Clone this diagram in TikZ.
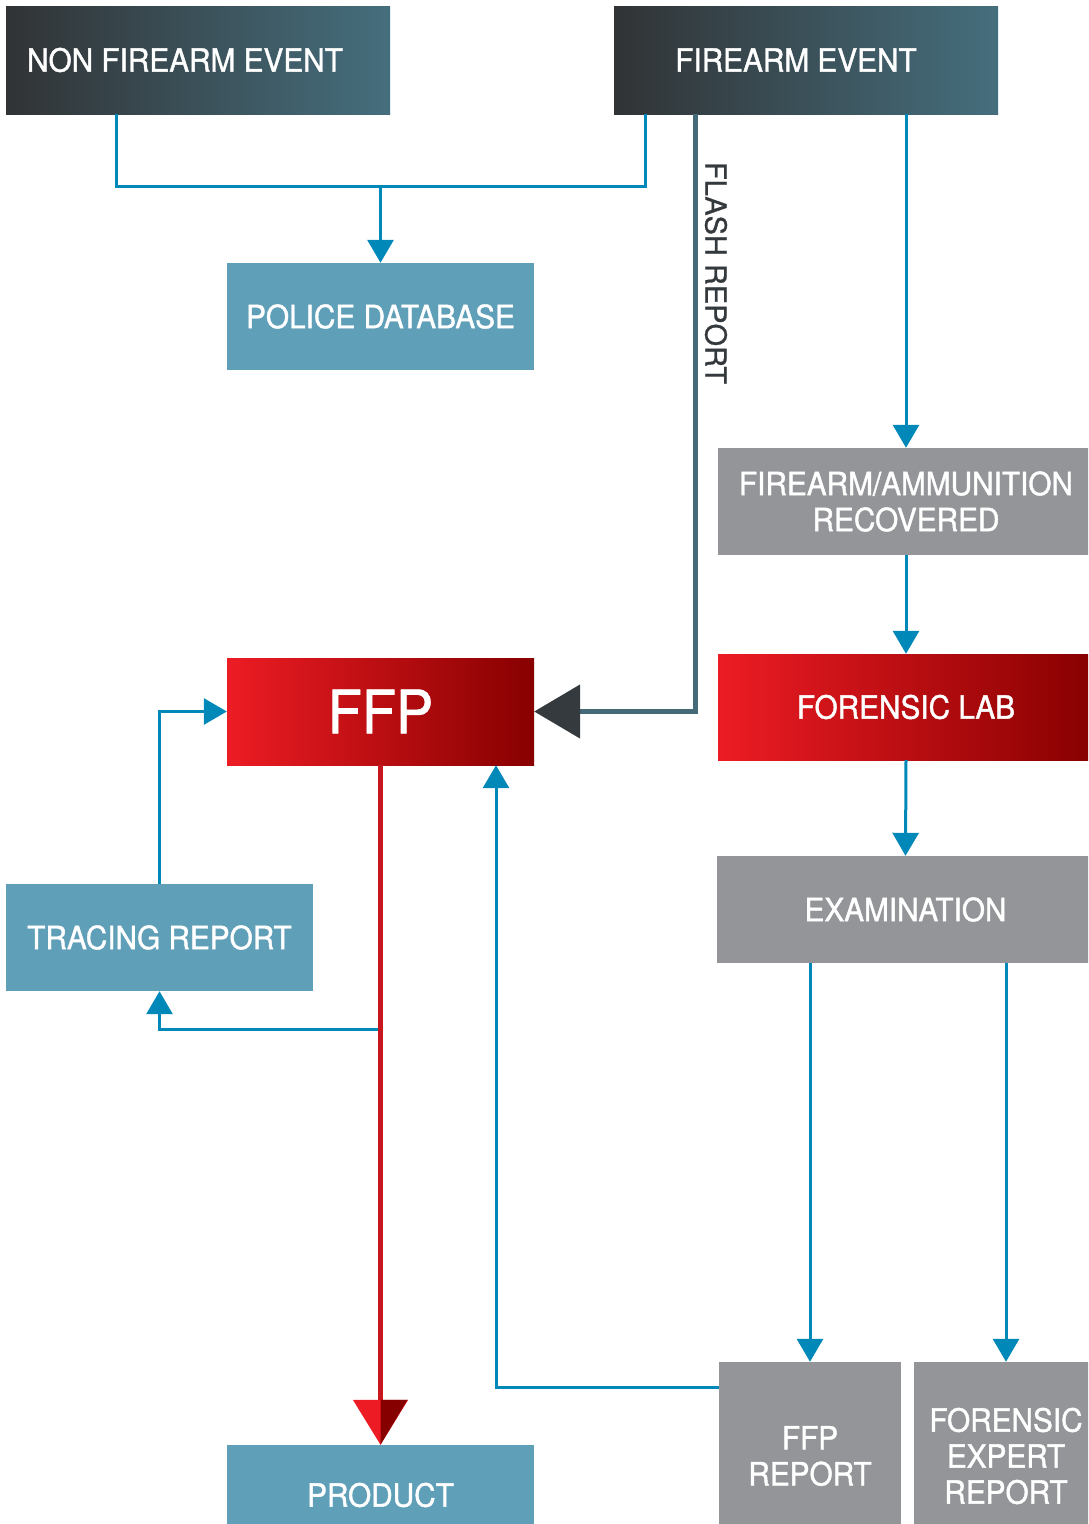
\documentclass[tikz,border=0pt]{standalone}
\usepackage{fontspec}
\setmainfont{TeX Gyre Heros}[FakeStretch=0.93,FakeBold=1.2]
\newfontfamily\labelfont{TeX Gyre Heros}[FakeBold=0.8]
\usetikzlibrary{arrows.meta,calc}

\definecolor{dkL}{HTML}{313335}
\definecolor{dkR}{HTML}{456E7D}
\definecolor{redL}{HTML}{ED1C24}
\definecolor{redR}{HTML}{870000}
\definecolor{redmid}{HTML}{C8161E}
\definecolor{boxblue}{HTML}{5F9FB8}
\definecolor{boxgray}{HTML}{949599}
\definecolor{connblue}{HTML}{0088B8}
\definecolor{flashline}{HTML}{456B78}
\definecolor{tipdark}{HTML}{343A3E}
\definecolor{labeltext}{HTML}{33393D}

\begin{document}
\begin{tikzpicture}[x=1pt,y=-1pt,
  box/.style={draw=none, inner sep=0pt, text=white, align=center,
    font=\fontsize{32}{36}\selectfont},
  darkbox/.style={box, left color=dkL, right color=dkR},
  redbox/.style={box, left color=redL, right color=redR},
  bluebox/.style={box, fill=boxblue},
  graybox/.style={box, fill=boxgray},
  conn/.style={draw=connblue, line width=3pt},
  arr/.style={-{Triangle[length=23pt,width=26pt]}},
  flashconn/.style={draw=flashline, line width=5pt,
    -{Triangle[length=46pt,width=53pt,color=tipdark]}},
  redconn/.style={draw=redmid, line width=5pt,
    -{Triangle[length=45pt,width=54pt,color=redL]}},
  flashlbl/.style={rotate=-90, text=labeltext, inner sep=0pt,
    font=\labelfont\fontsize{29}{29}\selectfont}
]
\useasboundingbox (0,0) rectangle (1088,1524);
\fill[white] (0,0) rectangle (1088,1524);
\clip (0,0) rectangle (1088,1524);

% event boxes (titles sit a little left of centre)
\node[darkbox, minimum width=384pt, minimum height=108pt] (nfe) at (198,60) {NON FIREARM EVENT\hspace*{26pt}};
\node[darkbox, minimum width=384pt, minimum height=108pt] (fe) at (806,60) {FIREARM EVENT\hspace*{20pt}};

% left column
\node[bluebox, minimum width=307pt, minimum height=107pt] (police) at (380.5,316.5) {POLICE DATABASE};
\node[redbox, minimum width=307pt, minimum height=107pt,
      font=\fontsize{60}{60}\selectfont] (ffp) at (380.5,711.5) {FFP};
\node[bluebox, minimum width=307pt, minimum height=107pt] (trace) at (159.5,937.5) {TRACING REPORT};
\node[bluebox, minimum width=307pt, minimum height=100pt] (product) at (380.5,1495) {PRODUCT};

% right column
\node[graybox, minimum width=376pt, minimum height=107pt] (recov) at (906,501.5) {FIREARM/AMMUNITION\\RECOVERED};
\node[redbox, minimum width=376pt, minimum height=106pt] (flab) at (906,707) {FORENSIC LAB};
\node[graybox, minimum width=377pt, minimum height=107pt] (exam) at (905.5,909.5) {EXAMINATION};
\node[graybox, minimum width=182pt, minimum height=188pt] (ffpr) at (810,1456) {FFP\\REPORT};
\node[graybox, minimum width=184pt, minimum height=188pt] (fer) at (1006,1456) {FORENSIC\\EXPERT\\REPORT};

% both events feed the police database
\coordinate (j) at (380.5,186);
\draw[conn] ([xshift=-82pt]nfe.south) |- (j) -| ([xshift=-161pt]fe.south);
\draw[conn,arr] (j) -- (police.north);

% flash report to FFP
\draw[flashconn] ([xshift=-111pt]fe.south) |- (ffp.east);
\node[flashlbl] (flbl) at (716,273) {FLASH REPORT};

% forensic chain
\draw[conn,arr] (fe.south -| recov.north) -- (recov.north);
\draw[conn,arr] (recov.south) -- (flab.north);
\draw[conn,arr] (flab.south) -- (exam.north);
\draw[conn,arr] (exam.south -| ffpr.north) -- (ffpr.north);
\draw[conn,arr] (exam.south -| fer.north) -- (fer.north);

% FFP report back to FFP
\draw[conn,arr] ($(ffpr.north west)+(0,26)$) -| ([xshift=115.5pt]ffp.south);

% FFP to product, with the tracing loop
\coordinate (br) at (380.5,1029);
\draw[conn,arr] (br) -| (trace.south);
\draw[conn,arr] (trace.north) |- (ffp.west);
\draw[redconn] (ffp.south) -- (product.north);
\fill[redR] (product.north) -- ++(0,-45) -- ++(27,0) -- cycle;
\end{tikzpicture}
\end{document}
